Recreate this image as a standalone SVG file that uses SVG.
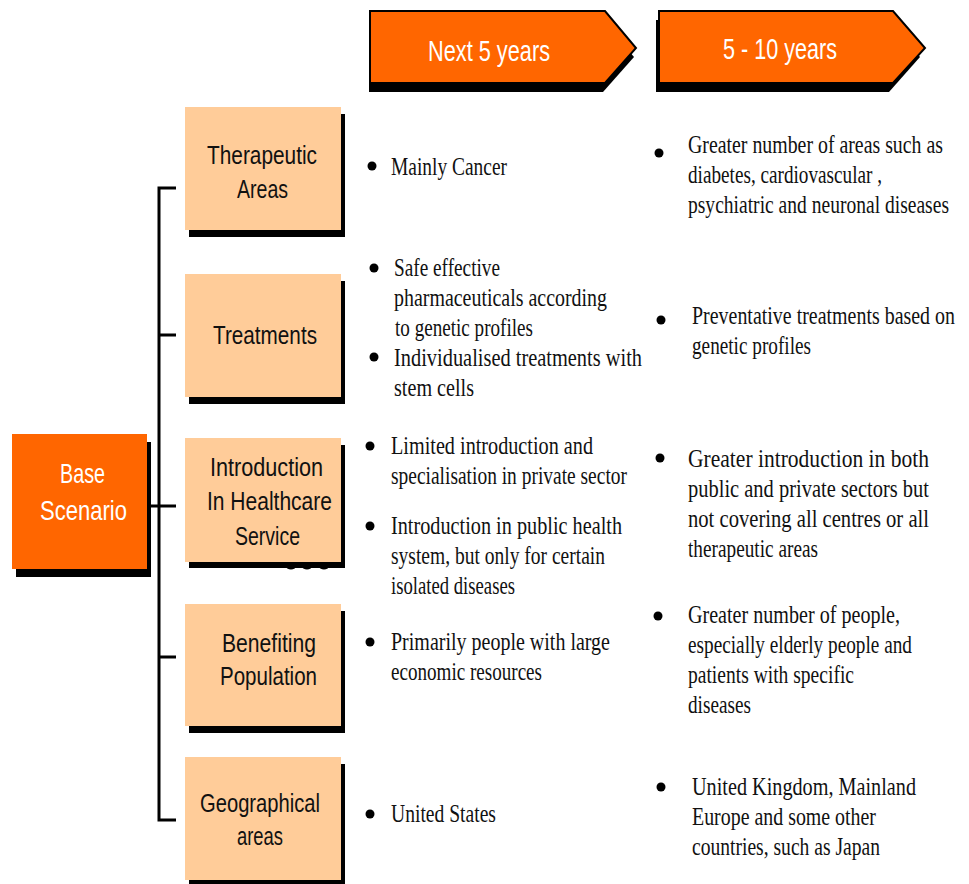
<svg xmlns="http://www.w3.org/2000/svg" width="969" height="884" viewBox="0 0 969 884">
<defs>
<style>
.box{fill:#FFCC99}
.org{fill:#FF6600}
.sh{fill:#000}
.lbl{font-family:"Liberation Sans Narrow","Liberation Sans",Arial,sans-serif;font-size:25px;fill:#111;text-anchor:start}
.wl{font-family:"Liberation Sans Narrow","Liberation Sans",Arial,sans-serif;fill:#fff}
.tx{font-family:"Liberation Serif","Times New Roman",serif;font-size:25px;fill:#111}
.conn{stroke:#000;stroke-width:3;fill:none}
</style>
</defs>
<rect width="969" height="884" fill="#fff"/>

<g id="arrow1">
<polygon class="sh" points="369,20 603,20 634,57 603,92 369,92"/>
<polygon class="org" stroke="#000" stroke-width="2" points="370,11 605,11 636,48 605,83 370,83"/>
<text class="wl" x="428" y="61" font-size="30" textLength="122" lengthAdjust="spacingAndGlyphs">Next 5 years</text>
</g>
<g id="arrow2">
<polygon class="sh" points="656,20 889,20 920,57 889,92 656,92"/>
<polygon class="org" stroke="#000" stroke-width="2" points="659,11 893,11 925,48 893,83 659,83"/>
<text class="wl" x="723" y="59" font-size="30" textLength="114" lengthAdjust="spacingAndGlyphs">5 - 10 years</text>
</g>

<g id="connectors">
<path class="conn" d="M176,188 H159 V820 H176"/>
<path class="conn" d="M159,335 H176 M147,506 H176 M159,657 H176"/>
</g>

<g id="base">
<rect class="sh" x="16" y="442" width="135" height="135"/>
<rect class="org" x="12" y="434" width="135" height="135"/>
<text class="wl" x="60" y="483" font-size="28" textLength="45" lengthAdjust="spacingAndGlyphs">Base</text>
<text class="wl" x="40" y="520" font-size="28" textLength="87" lengthAdjust="spacingAndGlyphs">Scenario</text>
</g>

<g id="therapeutic">
<rect class="sh" x="189" y="114" width="156" height="123"/>
<rect class="box" x="185" y="107" width="156" height="123"/>
<text class="lbl" x="207" y="164" textLength="110" lengthAdjust="spacingAndGlyphs">Therapeutic</text>
<text class="lbl" x="237" y="198" textLength="51" lengthAdjust="spacingAndGlyphs">Areas</text>
</g>

<g id="treatments">
<rect class="sh" x="189" y="281" width="156" height="123"/>
<rect class="box" x="185" y="274" width="156" height="123"/>
<text class="lbl" x="213" y="344" textLength="104" lengthAdjust="spacingAndGlyphs">Treatments</text>
</g>

<g id="introduction">
<path d="M285,564 q6,8 12,0 M301,564 q6,8 12,0 M318,564 q6,8 12,0" stroke="#000" stroke-width="3" fill="none"/>
<rect class="sh" x="189" y="445" width="156" height="123"/>
<rect class="box" x="185" y="438" width="156" height="124"/>
<text class="lbl" x="210" y="476" textLength="113" lengthAdjust="spacingAndGlyphs">Introduction</text>
<text class="lbl" x="207" y="510" textLength="125" lengthAdjust="spacingAndGlyphs">In Healthcare</text>
<text class="lbl" x="235" y="545" textLength="65" lengthAdjust="spacingAndGlyphs">Service</text>
</g>

<g id="benefiting">
<rect class="sh" x="189" y="611" width="156" height="122"/>
<rect class="box" x="185" y="604" width="156" height="122"/>
<text class="lbl" x="222" y="652" textLength="94" lengthAdjust="spacingAndGlyphs">Benefiting</text>
<text class="lbl" x="220" y="685" textLength="97" lengthAdjust="spacingAndGlyphs">Population</text>
</g>

<g id="geographical">
<rect class="sh" x="189" y="764" width="156" height="120"/>
<rect class="box" x="185" y="757" width="156" height="123"/>
<text class="lbl" x="200" y="812" textLength="120" lengthAdjust="spacingAndGlyphs">Geographical</text>
<text class="lbl" x="237" y="845" textLength="46" lengthAdjust="spacingAndGlyphs">areas</text>
</g>

<g id="col2">
<circle cx="372" cy="166" r="4.5"/>
<text class="tx" transform="translate(391,175) scale(0.8,1)" textLength="145" lengthAdjust="spacingAndGlyphs">Mainly Cancer</text>

<circle cx="374" cy="268" r="4.5"/>
<text class="tx" transform="translate(394,276) scale(0.8,1)" textLength="132.5" lengthAdjust="spacingAndGlyphs">Safe effective</text>
<text class="tx" transform="translate(394,306) scale(0.8,1)" textLength="266.25" lengthAdjust="spacingAndGlyphs">pharmaceuticals according</text>
<text class="tx" transform="translate(395,336) scale(0.8,1)" textLength="172.5" lengthAdjust="spacingAndGlyphs">to genetic profiles</text>
<circle cx="374" cy="357" r="4.5"/>
<text class="tx" transform="translate(394,366) scale(0.8,1)" textLength="310" lengthAdjust="spacingAndGlyphs">Individualised treatments with</text>
<text class="tx" transform="translate(394,396) scale(0.8,1)" textLength="100" lengthAdjust="spacingAndGlyphs">stem cells</text>

<circle cx="370" cy="446" r="4.5"/>
<text class="tx" transform="translate(391,454) scale(0.8,1)" textLength="252.5" lengthAdjust="spacingAndGlyphs">Limited introduction and</text>
<text class="tx" transform="translate(391,484) scale(0.8,1)" textLength="295" lengthAdjust="spacingAndGlyphs">specialisation in private sector</text>
<circle cx="370" cy="526" r="4.5"/>
<text class="tx" transform="translate(391,534) scale(0.8,1)" textLength="288.75" lengthAdjust="spacingAndGlyphs">Introduction in public health</text>
<text class="tx" transform="translate(391,564) scale(0.8,1)" textLength="267.5" lengthAdjust="spacingAndGlyphs">system, but only for certain</text>
<text class="tx" transform="translate(391,594) scale(0.8,1)" textLength="155" lengthAdjust="spacingAndGlyphs">isolated diseases</text>

<circle cx="370" cy="642" r="4.5"/>
<text class="tx" transform="translate(391,650) scale(0.8,1)" textLength="273.75" lengthAdjust="spacingAndGlyphs">Primarily people with large</text>
<text class="tx" transform="translate(391,680) scale(0.8,1)" textLength="188.75" lengthAdjust="spacingAndGlyphs">economic resources</text>

<circle cx="370" cy="814" r="4.5"/>
<text class="tx" transform="translate(391,822) scale(0.8,1)" textLength="131.25" lengthAdjust="spacingAndGlyphs">United States</text>
</g>

<g id="col3">
<circle cx="659" cy="153" r="4.5"/>
<text class="tx" transform="translate(688,153) scale(0.8,1)" textLength="318.75" lengthAdjust="spacingAndGlyphs">Greater number of areas such as</text>
<text class="tx" transform="translate(688,183) scale(0.8,1)" textLength="242.5" lengthAdjust="spacingAndGlyphs">diabetes, cardiovascular ,</text>
<text class="tx" transform="translate(688,213) scale(0.8,1)" textLength="326.25" lengthAdjust="spacingAndGlyphs">psychiatric and neuronal diseases</text>

<circle cx="661" cy="320" r="4.5"/>
<text class="tx" transform="translate(692,324) scale(0.8,1)" textLength="328.75" lengthAdjust="spacingAndGlyphs">Preventative treatments based on</text>
<text class="tx" transform="translate(692,354) scale(0.8,1)" textLength="148.75" lengthAdjust="spacingAndGlyphs">genetic profiles</text>

<circle cx="660" cy="458" r="4.5"/>
<text class="tx" transform="translate(688,467) scale(0.8,1)" textLength="301.25" lengthAdjust="spacingAndGlyphs">Greater introduction in both</text>
<text class="tx" transform="translate(688,497) scale(0.8,1)" textLength="301.25" lengthAdjust="spacingAndGlyphs">public and private sectors but</text>
<text class="tx" transform="translate(688,527) scale(0.8,1)" textLength="301.25" lengthAdjust="spacingAndGlyphs">not covering all centres or all</text>
<text class="tx" transform="translate(688,557) scale(0.8,1)" textLength="162.5" lengthAdjust="spacingAndGlyphs">therapeutic areas</text>

<circle cx="658" cy="616" r="4.5"/>
<text class="tx" transform="translate(688,623) scale(0.8,1)" textLength="265" lengthAdjust="spacingAndGlyphs">Greater number of people,</text>
<text class="tx" transform="translate(688,653) scale(0.8,1)" textLength="280" lengthAdjust="spacingAndGlyphs">especially elderly people and</text>
<text class="tx" transform="translate(688,683) scale(0.8,1)" textLength="207.5" lengthAdjust="spacingAndGlyphs">patients with specific</text>
<text class="tx" transform="translate(688,713) scale(0.8,1)" textLength="78.75" lengthAdjust="spacingAndGlyphs">diseases</text>

<circle cx="661" cy="787" r="4.5"/>
<text class="tx" transform="translate(692,795) scale(0.8,1)" textLength="280" lengthAdjust="spacingAndGlyphs">United Kingdom, Mainland</text>
<text class="tx" transform="translate(692,825) scale(0.8,1)" textLength="230" lengthAdjust="spacingAndGlyphs">Europe and some other</text>
<text class="tx" transform="translate(692,855) scale(0.8,1)" textLength="235" lengthAdjust="spacingAndGlyphs">countries, such as Japan</text>
</g>
</svg>
